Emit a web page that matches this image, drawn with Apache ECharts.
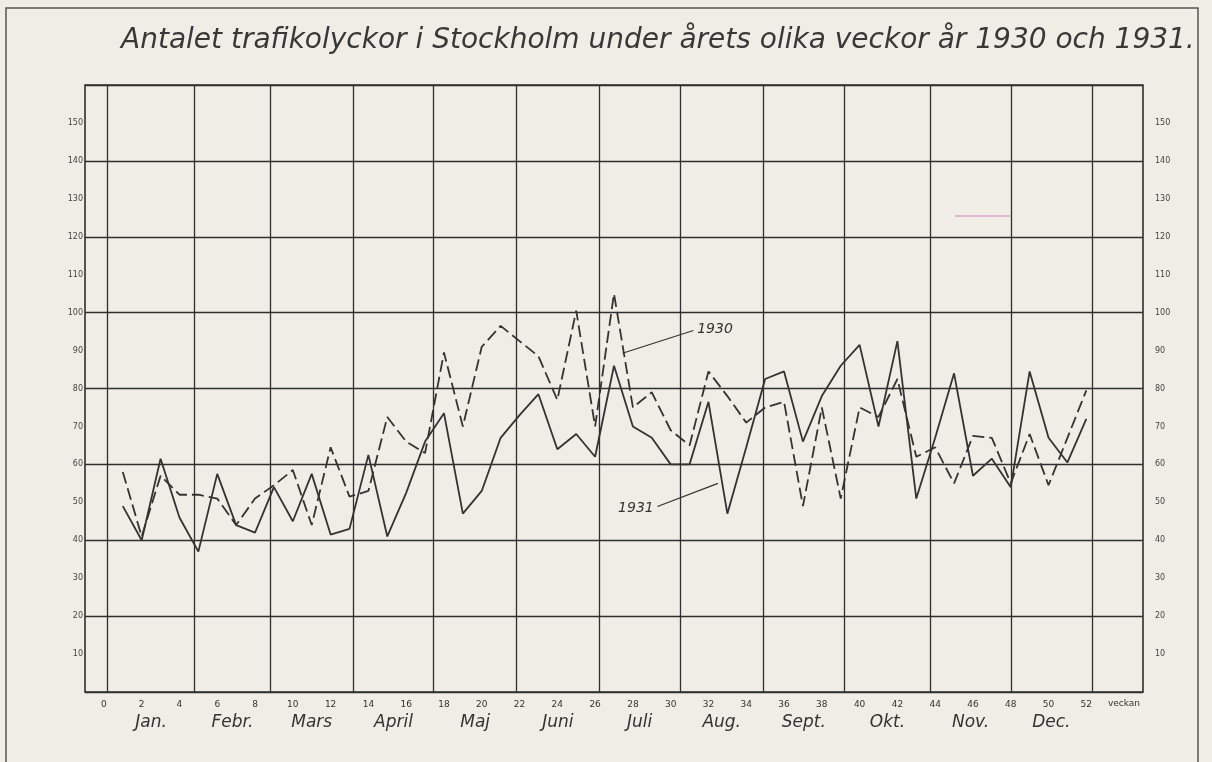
<!DOCTYPE html>
<html>
<head>
<meta charset="utf-8">
<script src="https://cdn.jsdelivr.net/npm/echarts@6/dist/echarts.min.js"></script>
<style>
html, body { margin: 0; padding: 0; background: #efede5; }
#chart { width: 1212px; height: 762px; }
</style>
</head>
<body>
<div id="chart"></div>
<script>
// veckor 1-52
var veckor = [1, 2, 3, 4, 5, 6, 7, 8, 9, 10, 11, 12, 13, 14, 15, 16, 17, 18, 19, 20, 21, 22, 23, 24, 25, 26,
	27, 28, 29, 30, 31, 32, 33, 34, 35, 36, 37, 38, 39, 40, 41, 42, 43, 44, 45, 46, 47, 48, 49, 50, 51, 52];

// antal trafikolyckor per vecka (avläst)
var ar1930 = [58, 41, 57, 52, 52, 51, 44, 51, 54.5, 58.5, 44, 64.5, 51.5, 53, 72.5, 66, 63, 89.5, 70, 91, 96.5, 92.5, 88.5, 77, 100.5, 70,
	105, 75, 79, 69, 65, 84.5, 78, 71, 75, 76.5, 49, 75, 51, 75, 72.5, 82.5, 62, 64.5, 55, 67.5, 67, 55, 68, 54.5, 67, 79.5];
var ar1931 = [49, 40, 61.5, 46, 37, 57.5, 44, 42, 54, 45, 57.5, 41.5, 43, 62.5, 41, 52.5, 66, 73.5, 47, 53, 67, 73, 78.5, 64, 68, 62,
	86, 70, 67, 60, 60, 76.5, 47, 64.5, 82.5, 84.5, 66, 78, 86, 91.5, 70, 92.5, 51, 67, 84, 57, 61.5, 54, 84.5, 67, 60.5, 72];

var veckoEtiketter = [0, 2, 4, 6, 8, 10, 12, 14, 16, 18, 20, 22, 24, 26, 28, 30, 32, 34, 36, 38, 40, 42, 44, 46, 48, 50, 52];
var yEtiketter = [10, 20, 30, 40, 50, 60, 70, 80, 90, 100, 110, 120, 130, 140, 150];
var manader = ['Jan.', 'Febr.', 'Mars', 'April', 'Maj', 'Juni', 'Juli', 'Aug.', 'Sept.', 'Okt.', 'Nov.', 'Dec.'];
// månadsgränser i veckor
var manadsGranser = [0.2, 4.8, 8.8, 13.2, 17.45, 21.85, 26.2, 30.5, 34.9, 39.2, 43.75, 48.0, 52.3];

var ink = '#2f2f2f';
var font = 'DejaVu Sans';

var manadsMitt = [];
for (var i = 0; i < manader.length; i++) {
	manadsMitt.push((manadsGranser[i] + manadsGranser[i + 1]) / 2);
}

function serie(ar) {
	var d = [];
	for (var i = 0; i < veckor.length; i++) d.push([veckor[i], ar[i]]);
	return d;
}

var chart = echarts.init(document.getElementById('chart'));
var option = {
	backgroundColor: '#efede5',
	animation: false,
	title: {
		text: 'Antalet trafikolyckor i Stockholm under årets olika veckor år 1930 och 1931.',
		left: 116,
		top: 22,
		textStyle: {
			fontFamily: font,
			fontStyle: 'italic',
			fontWeight: 'normal',
			fontSize: 28,
			color: '#383838'
		}
	},
	grid: {
		left: 85,
		right: 69,
		top: 85,
		bottom: 70,
		show: true,
		borderColor: ink,
		borderWidth: 1.6
	},
	xAxis: [{
		type: 'value',
		min: -1,
		max: 55,
		axisLine: { show: false },
		axisTick: { show: false },
		splitLine: { show: false },
		axisLabel: {
			customValues: veckoEtiketter,
			fontFamily: font,
			fontSize: 9,
			color: '#333',
			margin: 8
		},
		name: 'veckan',
		nameLocation: 'end',
		nameGap: -3,
		nameTextStyle: {
			fontFamily: font,
			fontSize: 9,
			color: '#333',
			align: 'right',
			verticalAlign: 'top',
			padding: [7, 0, 0, 0]
		}
	}, {
		type: 'value',
		min: -1,
		max: 55,
		position: 'bottom',
		axisLine: { show: false },
		axisTick: { show: false },
		splitLine: { show: false },
		axisLabel: {
			customValues: manadsMitt,
			margin: 22,
			fontFamily: font,
			fontStyle: 'italic',
			fontSize: 17,
			color: '#333',
			formatter: function(v) {
				for (var i = 0; i < manadsMitt.length; i++) {
					if (Math.abs(manadsMitt[i] - v) < 0.01) return manader[i];
				}
				return '';
			}
		}
	}],
	yAxis: [{
		type: 'value',
		min: 0,
		max: 160,
		interval: 20,
		position: 'left',
		axisLine: { show: false },
		axisTick: { show: false },
		splitLine: { show: true, lineStyle: { color: ink, width: 1.3 } },
		axisLabel: {
			customValues: yEtiketter,
			fontFamily: font,
			fontSize: 8,
			color: '#444',
			margin: 2
		}
	}, {
		type: 'value',
		min: 0,
		max: 160,
		interval: 20,
		position: 'right',
		axisLine: { show: false },
		axisTick: { show: false },
		splitLine: { show: false },
		axisLabel: {
			customValues: yEtiketter,
			fontFamily: font,
			fontSize: 8,
			color: '#444',
			margin: 12
		}
	}],
	series: [{
		name: 'manader',
		type: 'line',
		data: [],
		silent: true,
		markLine: {
			silent: true,
			symbol: ['none', 'none'],
			label: { show: false },
			lineStyle: { type: 'solid', color: ink, width: 1.3 },
			data: manadsGranser.map(function(g) { return { xAxis: g }; })
		}
	}, {
		name: '1930',
		type: 'line',
		data: serie(ar1930),
		symbol: 'none',
		lineStyle: { color: '#333', width: 1.8, type: [12, 5] },
		markLine: {
			silent: true,
			symbol: ['none', 'none'],
			lineStyle: { type: 'solid', color: '#333', width: 1.2 },
			label: {
				show: true,
				position: 'end',
				distance: 4,
				formatter: '1930',
				fontFamily: font,
				fontStyle: 'italic',
				fontSize: 14,
				color: '#333'
			},
			data: [[{ coord: [27.45, 89.3] }, { coord: [31.2, 95.3] }]]
		}
	}, {
		name: '1931',
		type: 'line',
		data: serie(ar1931),
		symbol: 'none',
		lineStyle: { color: '#333', width: 1.8, type: 'solid' },
		markLine: {
			silent: true,
			symbol: ['none', 'none'],
			lineStyle: { type: 'solid', color: '#333', width: 1.2 },
			label: {
				show: true,
				position: 'end',
				distance: 4,
				formatter: '1931',
				fontFamily: font,
				fontStyle: 'italic',
				fontSize: 14,
				color: '#333'
			},
			data: [[{ coord: [32.5, 55.0] }, { coord: [29.3, 48.9] }]]
		}
	}],
	graphic: [{
		type: 'rect',
		shape: { x: 6, y: 8, width: 1192, height: 770 },
		style: { fill: 'none', stroke: '#555', lineWidth: 1.5 },
		silent: true
	}, {
		type: 'line',
		shape: { x1: 955, y1: 216, x2: 1010, y2: 216 },
		style: { stroke: '#d77ad0', lineWidth: 1.2 },
		silent: true
	}]
};
chart.setOption(option);
</script>
</body>
</html>
